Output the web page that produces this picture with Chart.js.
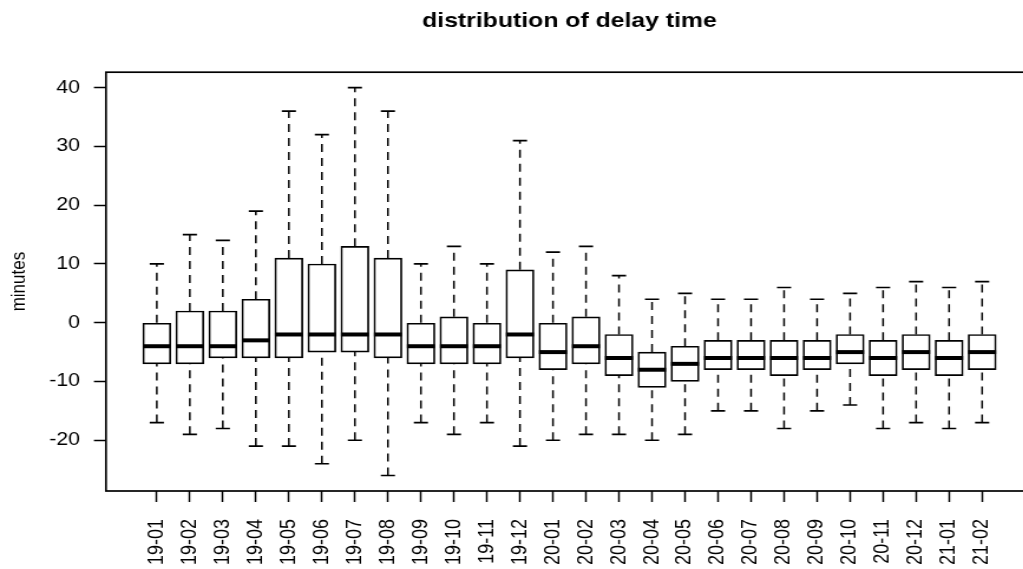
<!DOCTYPE html>
<html>
<head>
<meta charset="utf-8">
<title>distribution of delay time</title>
<script src="https://cdn.jsdelivr.net/npm/chart.js@4.4.0/dist/chart.umd.min.js"></script>
<style>
    html, body { margin: 0; padding: 0; background: #fff; overflow: hidden; }
    /* the reference plot is stretched sideways, so the whole canvas is too */
    #wrap { position: absolute; left: 0; top: 0; width: 890px; height: 569px;
            transform: scaleX(1.18); transform-origin: 0 0; }
</style>
</head>
<body>
<div id="wrap"><canvas id="delayChart" width="890" height="569"></canvas></div>
<script>
// Monthly delay distribution (minutes)
const months = ['19-01', '19-02', '19-03', '19-04', '19-05', '19-06', '19-07', '19-08',
    '19-09', '19-10', '19-11', '19-12', '20-01', '20-02', '20-03', '20-04', '20-05',
    '20-06', '20-07', '20-08', '20-09', '20-10', '20-11', '20-12', '21-01', '21-02'];
const lowWhisker    = [-17, -19, -18, -21, -21, -24, -20, -26, -17, -19, -17, -21, -20, -19, -19, -20, -19, -15, -15, -18, -15, -14, -18, -17, -18, -17];
const lowerQuartile = [-7, -7, -6, -6, -6, -5, -5, -6, -7, -7, -7, -6, -8, -7, -9, -11, -10, -8, -8, -9, -8, -7, -9, -8, -9, -8];
const medians       = [-4, -4, -4, -3, -2, -2, -2, -2, -4, -4, -4, -2, -5, -4, -6, -8, -7, -6, -6, -6, -6, -5, -6, -5, -6, -5];
const upperQuartile = [0, 2, 2, 4, 11, 10, 13, 11, 0, 1, 0, 9, 0, 1, -2, -5, -4, -3, -3, -3, -3, -2, -3, -2, -3, -2];
const highWhisker   = [10, 15, 14, 19, 36, 32, 40, 36, 10, 13, 10, 31, 12, 13, 8, 4, 5, 4, 4, 6, 4, 5, 6, 7, 6, 7];
const yTicks = [-20, -10, 0, 10, 20, 30, 40];

const FONT = "'Liberation Sans', Arial, Helvetica, sans-serif";
const BOX_W = 23.7;

// whiskers, staples, medians and the frame round the plot
const boxplotExtras = {
    id: 'boxplotExtras',
    afterDatasetsDraw(chart) {
        const ctx = chart.ctx;
        const xs = chart.scales.x;
        const ys = chart.scales.y;
        const area = chart.chartArea;
        ctx.save();
        ctx.strokeStyle = '#000';
        months.forEach((m, i) => {
            const px = xs.getPixelForValue(i + 1);
            // dashed whiskers
            ctx.lineWidth = 1.5;
            ctx.setLineDash([8, 6]);
            ctx.beginPath();
            ctx.moveTo(px, ys.getPixelForValue(upperQuartile[i]));
            ctx.lineTo(px, ys.getPixelForValue(highWhisker[i]));
            ctx.moveTo(px, ys.getPixelForValue(lowWhisker[i]));
            ctx.lineTo(px, ys.getPixelForValue(lowerQuartile[i]));
            ctx.stroke();
            // staples
            ctx.setLineDash([]);
            ctx.lineWidth = 1.7;
            ctx.beginPath();
            ctx.moveTo(px - 6, ys.getPixelForValue(highWhisker[i]));
            ctx.lineTo(px + 6, ys.getPixelForValue(highWhisker[i]));
            ctx.moveTo(px - 6, ys.getPixelForValue(lowWhisker[i]));
            ctx.lineTo(px + 6, ys.getPixelForValue(lowWhisker[i]));
            ctx.stroke();
            // median
            ctx.lineWidth = 4;
            ctx.beginPath();
            ctx.moveTo(px - BOX_W / 2, ys.getPixelForValue(medians[i]));
            ctx.lineTo(px + BOX_W / 2, ys.getPixelForValue(medians[i]));
            ctx.stroke();
        });
        ctx.lineWidth = 1.7;
        ctx.strokeRect(area.left, area.top, area.right - area.left, area.bottom - area.top);
        ctx.restore();
    }
};

const ctx = document.getElementById('delayChart').getContext('2d');
const chart = new Chart(ctx, {
    type: 'bar',
    data: {
        datasets: [{
            label: 'IQR',
            data: months.map((m, i) => ({ x: i + 1, y: [lowerQuartile[i], upperQuartile[i]] })),
            backgroundColor: '#fff',
            borderColor: '#000',
            borderWidth: 1.7,
            borderSkipped: false,
            barThickness: BOX_W
        }]
    },
    options: {
        responsive: false,
        animation: false,
        layout: { padding: { left: 0, right: 14.6, top: 0, bottom: 0 } },
        plugins: {
            legend: { display: false },
            tooltip: { enabled: false },
            title: {
                display: true,
                text: 'distribution of delay time',
                fullSize: false,
                color: '#000',
                font: { family: FONT, size: 21, weight: 'bold' },
                padding: { top: 9, bottom: 38 }
            }
        },
        scales: {
            x: {
                type: 'linear',
                offset: false,
                min: -0.54,
                max: 27.54,
                afterBuildTicks: s => { s.ticks = months.map((m, i) => ({ value: i + 1 })); },
                afterFit: s => { s.height = 78; },
                grid: { offset: false, drawOnChartArea: false, tickLength: 11, tickColor: '#000', tickWidth: 1.5 },
                border: { display: false },
                ticks: {
                    autoSkip: false,
                    maxRotation: 90,
                    minRotation: 90,
                    padding: 17,
                    color: '#000',
                    font: { family: FONT, size: 18 },
                    callback: v => months[Math.round(v) - 1]
                }
            },
            y: {
                min: -28.64,
                max: 42.64,
                afterBuildTicks: s => { s.ticks = yTicks.map(v => ({ value: v })); },
                afterFit: s => { s.width = 89.8; },
                grid: { drawOnChartArea: false, tickLength: 10.2, tickColor: '#000', tickWidth: 1.5 },
                border: { display: false },
                ticks: {
                    padding: 11.8,
                    color: '#000',
                    font: { family: FONT, size: 18 },
                    callback: v => String(v)
                },
                title: {
                    display: true,
                    text: 'minutes',
                    color: '#000',
                    font: { family: FONT, size: 17 },
                    padding: { top: 6.3, bottom: 0 }
                }
            }
        }
    },
    plugins: [boxplotExtras]
});
</script>
</body>
</html>
